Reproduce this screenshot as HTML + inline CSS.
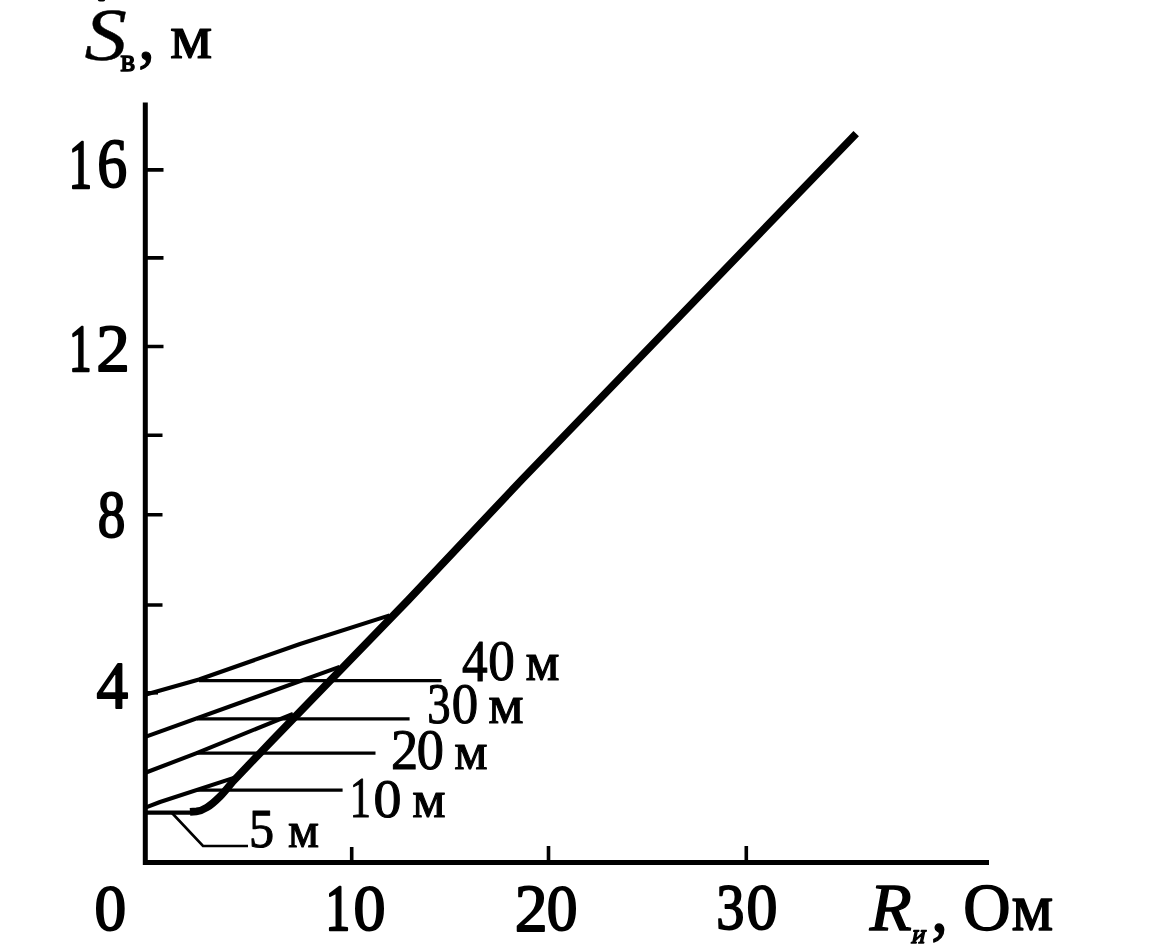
<!DOCTYPE html>
<html lang="ru">
<head>
<meta charset="utf-8">
<title>Sв(Rи)</title>
<style>
html,body{margin:0;padding:0;background:#fff;}
body{width:1150px;height:952px;overflow:hidden;}
svg{display:block;position:absolute;left:0;top:0;}
text{font-family:"Liberation Serif","DejaVu Serif",serif;fill:#000;stroke:#000;stroke-linejoin:round;white-space:pre;}
.it{font-style:italic;}
.bd{font-weight:bold;}
.bi{font-weight:bold;font-style:italic;}
.thin{fill:none;stroke:#000;stroke-width:3.3;stroke-linecap:butt;stroke-linejoin:miter;}
.slant{fill:none;stroke:#000;stroke-width:4.1;stroke-linecap:butt;stroke-linejoin:round;}
.lead{fill:none;stroke:#000;stroke-width:2.6;stroke-linecap:butt;stroke-linejoin:miter;}
.axis{fill:none;stroke:#000;stroke-width:5;stroke-linecap:butt;stroke-linejoin:miter;}
.tick{fill:none;stroke:#000;stroke-width:3.6;}
.thick{fill:none;stroke:#000;stroke-width:7.6;stroke-linecap:butt;stroke-linejoin:round;}
</style>
</head>
<body>
<svg width="1150" height="952" viewBox="0 0 1150 952">
<rect x="0" y="0" width="1150" height="952" fill="#fff"/>
<!-- axes -->
<path class="axis" d="M145.3 102.5 L145.3 862.6 L989 862.6"/>
<!-- y ticks -->
<path class="tick" d="M146 169.9H163.5 M146 257.9H163.5 M146 346.5H163.5 M146 435.3H162.5 M146 514.8H162.5 M146 605H162.5"/>
<path class="tick" d="M146 692.8H158"/>
<!-- x ticks -->
<path class="tick" d="M351.7 847V862 M548.5 846V862 M746.3 846V862"/>
<!-- slanted lines -->
<path class="slant" d="M146 694.5 L199 679.5 L300 644 L389.6 615.4"/>
<path class="slant" d="M146 736.6 L339.6 666.9"/>
<path class="slant" d="M146 772.5 L196 753.3 L293 713.8"/>
<path class="slant" d="M146 807.3 L160 802 L234.6 777.6"/>
<path class="thin" d="M146 812.6 L192 812.6" style="stroke-width:4.2"/>
<!-- horizontals -->
<path class="thin" d="M199 680.7 H441.5"/>
<path class="thin" d="M197 718.8 H409.6"/>
<path class="thin" d="M196 753.1 H375.5"/>
<path class="thin" d="M196 790.1 H342.6"/>
<path class="lead" d="M172 813 L203 846 H248"/>
<!-- thick curve -->
<path class="thick" d="M190 811.9 L196.5 811.4 C200 811 204 809.3 207 807.4 C210 805.5 216 800.5 220 796.5 C223 793.5 230 785 233 781.3 L237.8 776.3 L272.6 740 L408.3 600 L521.5 480 L856.2 133.6"/>

<ellipse cx="101.5" cy="0" rx="3.6" ry="1.6" fill="#000"/>
<g>
<text><tspan x="68.76" y="187.55" font-size="69.38" stroke-width="2.5" textLength="23.19" lengthAdjust="spacingAndGlyphs">1</tspan><tspan x="97.25" y="187.18" font-size="69.06" stroke-width="1.9" textLength="29.91" lengthAdjust="spacingAndGlyphs">6</tspan></text>
<text><tspan x="68.89" y="370.55" font-size="67.11" stroke-width="2.5" textLength="22.48" lengthAdjust="spacingAndGlyphs">1</tspan><tspan x="96.19" y="370.85" font-size="67.81" stroke-width="1.9" textLength="33.57" lengthAdjust="spacingAndGlyphs">2</tspan></text>
<text><tspan x="97.68" y="537.2" font-size="66.83" stroke-width="1.9" textLength="27.64" lengthAdjust="spacingAndGlyphs">8</tspan></text>
<text><tspan x="96.46" y="707.85" font-size="66.85" stroke-width="1.9" textLength="31.63" lengthAdjust="spacingAndGlyphs">4</tspan></text>
<text><tspan x="94.52" y="929.62" font-size="64.76" stroke-width="1.9" textLength="31.67" lengthAdjust="spacingAndGlyphs">0</tspan></text>
<text><tspan x="325.4" y="929.85" font-size="66.2" stroke-width="2.5" textLength="24.63" lengthAdjust="spacingAndGlyphs">1</tspan><tspan x="353.49" y="929.51" font-size="65.65" stroke-width="1.9" textLength="32.03" lengthAdjust="spacingAndGlyphs">0</tspan></text>
<text><tspan x="514.84" y="930.55" font-size="67.51" stroke-width="1.9" textLength="32.87" lengthAdjust="spacingAndGlyphs">2</tspan><tspan x="546.64" y="929.9" font-size="66.24" stroke-width="1.9" textLength="30.72" lengthAdjust="spacingAndGlyphs">0</tspan></text>
<text><tspan x="716.13" y="929.41" font-size="65.19" stroke-width="1.9" textLength="28.15" lengthAdjust="spacingAndGlyphs">3</tspan><tspan x="746.45" y="929.42" font-size="64.91" stroke-width="1.9" textLength="30.9" lengthAdjust="spacingAndGlyphs">0</tspan></text>
<text><tspan class="it" x="84.64" y="59.69" font-size="73.08" stroke-width="0.4" textLength="42.4" lengthAdjust="spacingAndGlyphs">S</tspan><tspan x="120.64" y="71" font-size="31.16" stroke-width="1.4" textLength="14.73" lengthAdjust="spacingAndGlyphs">в</tspan><tspan x="138.27" y="58.96" font-size="66.58" stroke-width="1.2" textLength="16.62" lengthAdjust="spacingAndGlyphs">,</tspan><tspan> </tspan><tspan x="169.99" y="58.1" font-size="64.27" stroke-width="1.2" textLength="42.25" lengthAdjust="spacingAndGlyphs">м</tspan></text>
<g><text><tspan class="it" x="869.77" y="930.2" font-size="68.27" stroke-width="1.4" textLength="41.96" lengthAdjust="spacingAndGlyphs">R</tspan></text><text transform="translate(910.69 943.15) skewX(-12)" font-size="27.02" stroke-width="1.5" textLength="13.51" lengthAdjust="spacingAndGlyphs">и</text><text><tspan x="931.13" y="930.84" font-size="69.3" stroke-width="1.4" textLength="16.7" lengthAdjust="spacingAndGlyphs">,</tspan><tspan> </tspan><tspan x="963.29" y="930.24" font-size="67.42" stroke-width="1.6" textLength="47.32" lengthAdjust="spacingAndGlyphs">О</tspan><tspan x="1011.38" y="930.2" font-size="67.1" stroke-width="1.4" textLength="41.68" lengthAdjust="spacingAndGlyphs">м</tspan></text></g>
<text><tspan x="461.88" y="680.55" font-size="58.19" stroke-width="1.1" textLength="25.63" lengthAdjust="spacingAndGlyphs">4</tspan><tspan x="488.29" y="680" font-size="56.76" stroke-width="1.1" textLength="26.51" lengthAdjust="spacingAndGlyphs">0</tspan><tspan> </tspan><tspan x="525.61" y="680.25" font-size="54.25" stroke-width="1.1" textLength="34" lengthAdjust="spacingAndGlyphs">м</tspan></text>
<text><tspan x="427.31" y="722.79" font-size="57.6" stroke-width="1.1" textLength="23.37" lengthAdjust="spacingAndGlyphs">3</tspan><tspan x="451.79" y="722.79" font-size="57.35" stroke-width="1.1" textLength="26.41" lengthAdjust="spacingAndGlyphs">0</tspan><tspan> </tspan><tspan x="488.37" y="723.05" font-size="55.12" stroke-width="1.1" textLength="35.38" lengthAdjust="spacingAndGlyphs">м</tspan></text>
<text><tspan x="390.93" y="769.45" font-size="57.39" stroke-width="1.1" textLength="27.14" lengthAdjust="spacingAndGlyphs">2</tspan><tspan x="416.76" y="768.9" font-size="56.31" stroke-width="1.1" textLength="27.18" lengthAdjust="spacingAndGlyphs">0</tspan><tspan> </tspan><tspan x="454.33" y="769.15" font-size="53.81" stroke-width="1.1" textLength="33.37" lengthAdjust="spacingAndGlyphs">м</tspan></text>
<text><tspan x="349.69" y="817.35" font-size="57.11" stroke-width="1.1" textLength="21.14" lengthAdjust="spacingAndGlyphs">1</tspan><tspan x="373.62" y="816.8" font-size="55.87" stroke-width="1.1" textLength="27.96" lengthAdjust="spacingAndGlyphs">0</tspan><tspan> </tspan><tspan x="412.34" y="817.05" font-size="52.94" stroke-width="1.1" textLength="33.35" lengthAdjust="spacingAndGlyphs">м</tspan></text>
<text><tspan x="248.89" y="846.91" font-size="54.92" stroke-width="1.1" textLength="25.07" lengthAdjust="spacingAndGlyphs">5</tspan><tspan> </tspan><tspan x="287.92" y="847.15" font-size="49.67" stroke-width="1.1" textLength="30.99" lengthAdjust="spacingAndGlyphs">м</tspan></text>
</g>
</svg>
</body>
</html>
